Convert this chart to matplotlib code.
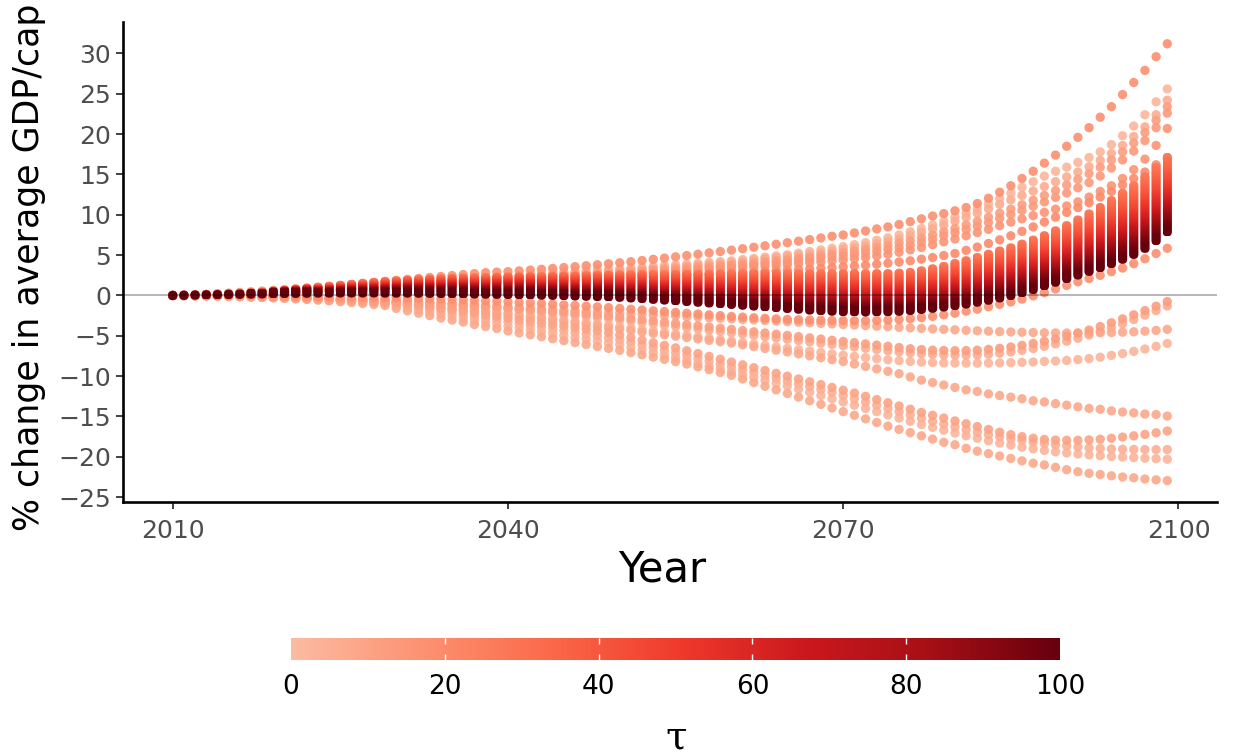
import numpy as np
import matplotlib
matplotlib.use("Agg")
import matplotlib.pyplot as plt
from matplotlib.colors import LinearSegmentedColormap, Normalize
from matplotlib.cm import ScalarMappable
from matplotlib.patches import FancyBboxPatch

plt.rcParams['font.family'] = ['DejaVu Sans']

years = np.arange(2010, 2100)

# dense band (tau ~25 at the top of each column, tau 100 at the bottom)
band_lo = [0.0, 0.02, 0.05, 0.08, 0.1, 0.12, 0.15, 0.17, 0.2, 0.22,
           0.24, 0.26, 0.28, 0.3, 0.3, 0.32, 0.32, 0.32, 0.32, 0.3,
           0.3, 0.3, 0.28, 0.27, 0.25, 0.23, 0.21, 0.19, 0.17, 0.15,
           0.13, 0.1, 0.08, 0.05, 0.02, -0.02, -0.05, -0.09, -0.13, -0.17,
           -0.22, -0.3, -0.38, -0.47, -0.56, -0.65, -0.74, -0.83, -0.92, -1.01,
           -1.1, -1.2, -1.3, -1.4, -1.5, -1.6, -1.7, -1.8, -1.87, -1.94,
           -2.0, -2.02, -2.03, -2.02, -2.0, -1.95, -1.85, -1.72, -1.58, -1.42,
           -1.25, -1.05, -0.82, -0.58, -0.3, 0.0, 0.35, 0.75, 1.2, 1.65,
           2.1, 2.55, 3.0, 3.45, 3.95, 4.5, 5.1, 5.85, 6.8, 7.9]
band_hi = [0.0, 0.02, 0.05, 0.08, 0.1, 0.15, 0.2, 0.3, 0.4, 0.5,
           0.62, 0.75, 0.88, 1.0, 1.12, 1.24, 1.36, 1.48, 1.6, 1.7,
           1.8, 1.88, 1.95, 2.0, 2.05, 2.1, 2.15, 2.2, 2.22, 2.25,
           2.28, 2.3, 2.32, 2.35, 2.37, 2.4, 2.42, 2.45, 2.47, 2.5,
           2.52, 2.54, 2.56, 2.58, 2.6, 2.62, 2.63, 2.64, 2.65, 2.66,
           2.67, 2.68, 2.69, 2.7, 2.7, 2.7, 2.7, 2.7, 2.7, 2.7,
           2.7, 2.7, 2.7, 2.7, 2.7, 2.75, 2.85, 3.05, 3.3, 3.6,
           3.95, 4.3, 4.7, 5.1, 5.5, 5.9, 6.35, 6.85, 7.4, 8.0,
           8.65, 9.35, 10.1, 10.9, 11.75, 12.65, 13.6, 14.7, 15.85, 17.1]

# single curves outside the band
u1 = [0.0, 0.05, 0.1, 0.15, 0.22, 0.3, 0.38, 0.46, 0.55, 0.64,
      0.73, 0.83, 0.93, 1.04, 1.15, 1.27, 1.39, 1.51, 1.63, 1.75,
      1.87, 1.99, 2.11, 2.23, 2.35, 2.47, 2.59, 2.71, 2.83, 2.9,
      2.95, 3.05, 3.15, 3.25, 3.35, 3.46, 3.57, 3.69, 3.81, 3.93,
      4.05, 4.19, 4.33, 4.48, 4.63, 4.79, 4.95, 5.11, 5.28, 5.45,
      5.62, 5.8, 5.98, 6.16, 6.35, 6.54, 6.73, 6.93, 7.13, 7.34,
      7.5, 7.75, 8.0, 8.25, 8.5, 8.8, 9.15, 9.5, 9.85, 10.15,
      10.5, 10.9, 11.4, 12.05, 12.8, 13.6, 14.5, 15.4, 16.4, 17.4,
      18.5, 19.6, 20.8, 22.1, 23.4, 24.9, 26.4, 27.9, 29.6, 31.2]
u2 = [0.0, 0.03, 0.06, 0.1, 0.14, 0.18, 0.23, 0.28, 0.33, 0.39,
      0.45, 0.54, 0.63, 0.72, 0.81, 0.9, 0.99, 1.08, 1.17, 1.28,
      1.4, 1.5, 1.6, 1.7, 1.8, 1.9, 2.0, 2.1, 2.2, 2.3,
      2.4, 2.5, 2.6, 2.7, 2.8, 2.9, 3.0, 3.1, 3.2, 3.25,
      3.3, 3.4, 3.5, 3.6, 3.7, 3.8, 3.9, 4.0, 4.1, 4.2,
      4.3, 4.45, 4.6, 4.75, 4.9, 5.05, 5.25, 5.45, 5.65, 5.85,
      6.05, 6.3, 6.55, 6.85, 7.15, 7.5, 7.9, 8.3, 8.75, 9.2,
      9.7, 10.2, 10.75, 11.35, 12.0, 12.7, 13.4, 14.1, 14.8, 15.4,
      15.9, 16.5, 17.1, 17.8, 18.7, 19.8, 21.0, 22.4, 24.0, 25.6]
u3 = [0.0, 0.03, 0.06, 0.09, 0.13, 0.17, 0.21, 0.26, 0.31, 0.36,
      0.42, 0.5, 0.58, 0.66, 0.75, 0.84, 0.93, 1.02, 1.11, 1.2,
      1.3, 1.4, 1.5, 1.6, 1.7, 1.8, 1.9, 2.0, 2.1, 2.2,
      2.3, 2.38, 2.46, 2.54, 2.62, 2.7, 2.78, 2.86, 2.94, 3.02,
      3.1, 3.2, 3.3, 3.4, 3.5, 3.6, 3.7, 3.8, 3.9, 4.0,
      4.1, 4.25, 4.4, 4.55, 4.7, 4.85, 5.0, 5.15, 5.3, 5.5,
      5.7, 5.9, 6.1, 6.4, 6.7, 7.0, 7.4, 7.8, 8.25, 8.7,
      9.2, 9.7, 10.2, 10.75, 11.3, 11.85, 12.4, 12.95, 13.5, 14.1,
      14.7, 15.3, 15.95, 16.75, 17.6, 18.6, 19.7, 20.9, 22.4, 24.2]
u4 = [0.0, 0.03, 0.06, 0.09, 0.12, 0.16, 0.2, 0.24, 0.29, 0.34,
      0.39, 0.46, 0.53, 0.61, 0.69, 0.77, 0.85, 0.93, 1.02, 1.11,
      1.2, 1.29, 1.38, 1.47, 1.56, 1.65, 1.74, 1.83, 1.92, 2.01,
      2.1, 2.18, 2.26, 2.34, 2.42, 2.5, 2.58, 2.66, 2.74, 2.82,
      2.9, 2.99, 3.08, 3.17, 3.26, 3.35, 3.44, 3.53, 3.62, 3.71,
      3.8, 3.93, 4.06, 4.2, 4.34, 4.48, 4.63, 4.8, 4.97, 5.14,
      5.3, 5.5, 5.7, 5.95, 6.2, 6.5, 6.8, 7.15, 7.5, 7.9,
      8.3, 8.75, 9.2, 9.7, 10.2, 10.7, 11.25, 11.8, 12.4, 13.0,
      13.7, 14.4, 15.1, 15.9, 16.8, 17.8, 18.9, 20.2, 21.7, 23.4]
u5 = [0.0, 0.03, 0.05, 0.08, 0.11, 0.15, 0.19, 0.23, 0.27, 0.32,
      0.37, 0.43, 0.5, 0.57, 0.64, 0.72, 0.8, 0.88, 0.96, 1.04,
      1.12, 1.2, 1.28, 1.36, 1.44, 1.52, 1.6, 1.68, 1.76, 1.84,
      1.92, 2.0, 2.08, 2.16, 2.24, 2.32, 2.4, 2.48, 2.56, 2.63,
      2.7, 2.78, 2.86, 2.94, 3.02, 3.1, 3.2, 3.3, 3.4, 3.5,
      3.6, 3.72, 3.84, 3.96, 4.08, 4.2, 4.34, 4.48, 4.62, 4.76,
      4.9, 5.07, 5.25, 5.45, 5.7, 5.95, 6.25, 6.6, 6.95, 7.4,
      7.8, 8.2, 8.6, 9.05, 9.55, 10.05, 10.55, 11.05, 11.6, 12.15,
      12.7, 13.35, 14.0, 14.8, 15.8, 16.8, 17.9, 19.2, 20.8, 22.6]
u6 = [0.0, 0.02, 0.05, 0.08, 0.11, 0.14, 0.17, 0.21, 0.25, 0.29,
      0.34, 0.4, 0.46, 0.52, 0.58, 0.65, 0.72, 0.79, 0.86, 0.93,
      1.0, 1.08, 1.16, 1.24, 1.32, 1.4, 1.48, 1.56, 1.64, 1.72,
      1.8, 1.87, 1.94, 2.01, 2.08, 2.15, 2.22, 2.29, 2.36, 2.43,
      2.5, 2.58, 2.66, 2.74, 2.82, 2.9, 2.98, 3.06, 3.14, 3.22,
      3.3, 3.4, 3.5, 3.6, 3.7, 3.8, 3.92, 4.04, 4.16, 4.28,
      4.4, 4.55, 4.7, 4.9, 5.1, 5.35, 5.65, 5.95, 6.3, 6.65,
      7.0, 7.4, 7.8, 8.2, 8.65, 9.1, 9.5, 9.9, 10.3, 10.7,
      11.1, 11.6, 12.2, 12.9, 13.6, 14.5, 15.6, 16.9, 18.6, 20.7]
u7 = [0.0, 0.02, 0.04, 0.07, 0.1, 0.13, 0.16, 0.2, 0.24, 0.28,
      0.32, 0.37, 0.42, 0.47, 0.52, 0.58, 0.64, 0.7, 0.76, 0.82,
      0.88, 0.95, 1.02, 1.09, 1.16, 1.23, 1.3, 1.37, 1.44, 1.51,
      1.58, 1.64, 1.7, 1.76, 1.82, 1.88, 1.94, 2.0, 2.06, 2.12,
      2.2, 2.26, 2.32, 2.38, 2.44, 2.5, 2.56, 2.62, 2.68, 2.74,
      2.8, 2.87, 2.94, 3.01, 3.08, 3.15, 3.22, 3.3, 3.38, 3.46,
      3.55, 3.65, 3.75, 3.87, 4.0, 4.15, 4.3, 4.5, 4.7, 4.95,
      5.2, 5.6, 6.0, 6.45, 6.9, 7.4, 7.95, 8.5, 9.1, 9.7,
      10.3, 10.9, 11.5, 12.2, 12.9, 13.7, 14.5, 15.3, 16.2, 17.0]
b1 = [0.0, 0.0, 0.0, 0.0, 0.0, 0.0, 0.0, -0.02, -0.04, -0.06,
      -0.08, -0.1, -0.12, -0.14, -0.16, -0.18, -0.2, -0.22, -0.24, -0.26,
      -0.28, -0.32, -0.36, -0.4, -0.45, -0.5, -0.55, -0.6, -0.66, -0.72,
      -0.78, -0.85, -0.92, -1.0, -1.08, -1.16, -1.24, -1.33, -1.42, -1.51,
      -1.6, -1.7, -1.8, -1.9, -2.0, -2.1, -2.2, -2.3, -2.4, -2.5,
      -2.6, -2.68, -2.76, -2.83, -2.9, -2.96, -3.0, -3.04, -3.07, -3.1,
      -3.12, -3.13, -3.13, -3.1, -3.05, -2.98, -2.88, -2.75, -2.6, -2.4,
      -2.2, -1.95, -1.7, -1.4, -1.1, -0.8, -0.45, -0.05, 0.35, 0.8,
      1.25, 1.7, 2.1, 2.5, 2.95, 3.4, 3.95, 4.55, 5.2, 5.85]
l1 = [0.0, 0.0, -0.01, -0.02, -0.04, -0.06, -0.08, -0.1, -0.13, -0.16,
      -0.19, -0.23, -0.27, -0.31, -0.36, -0.41, -0.46, -0.52, -0.58, -0.64,
      -0.7, -0.77, -0.84, -0.92, -1.0, -1.08, -1.17, -1.26, -1.35, -1.45,
      -1.55, -1.65, -1.75, -1.86, -1.97, -2.08, -2.19, -2.3, -2.42, -2.55,
      -2.7, -2.85, -3.0, -3.15, -3.3, -3.45, -3.6, -3.75, -3.9, -4.05,
      -4.2, -4.35, -4.5, -4.65, -4.8, -4.95, -5.1, -5.25, -5.4, -5.55,
      -5.7, -5.85, -6.0, -6.15, -6.3, -6.45, -6.6, -6.7, -6.78, -6.82,
      -6.84, -6.83, -6.78, -6.68, -6.55, -6.38, -6.18, -5.95, -5.68, -5.38,
      -5.05, -4.68, -4.28, -3.85, -3.38, -2.9, -2.4, -1.88, -1.33, -0.75]
l2 = [0.0, 0.0, -0.01, -0.03, -0.05, -0.07, -0.09, -0.12, -0.15, -0.18,
      -0.22, -0.26, -0.31, -0.36, -0.41, -0.47, -0.53, -0.6, -0.67, -0.74,
      -0.81, -0.89, -0.97, -1.06, -1.15, -1.24, -1.34, -1.44, -1.54, -1.65,
      -1.76, -1.87, -1.99, -2.11, -2.23, -2.36, -2.49, -2.62, -2.75, -2.89,
      -3.03, -3.19, -3.35, -3.51, -3.67, -3.83, -3.99, -4.15, -4.31, -4.47,
      -4.63, -4.79, -4.95, -5.11, -5.27, -5.43, -5.59, -5.75, -5.91, -6.07,
      -6.23, -6.39, -6.55, -6.7, -6.85, -7.0, -7.12, -7.22, -7.3, -7.36,
      -7.4, -7.4, -7.36, -7.28, -7.16, -7.0, -6.8, -6.57, -6.3, -6.0,
      -5.67, -5.3, -4.9, -4.47, -4.0, -3.5, -2.98, -2.43, -1.87, -1.3]
l3 = [0.0, 0.0, -0.01, -0.02, -0.03, -0.05, -0.07, -0.09, -0.11, -0.14,
      -0.17, -0.2, -0.24, -0.28, -0.32, -0.37, -0.42, -0.47, -0.53, -0.59,
      -0.65, -0.72, -0.79, -0.86, -0.93, -1.0, -1.08, -1.16, -1.24, -1.32,
      -1.4, -1.48, -1.56, -1.64, -1.72, -1.8, -1.88, -1.96, -2.04, -2.12,
      -2.2, -2.27, -2.34, -2.41, -2.48, -2.55, -2.62, -2.69, -2.76, -2.83,
      -2.9, -2.97, -3.04, -3.11, -3.18, -3.25, -3.32, -3.39, -3.46, -3.53,
      -3.6, -3.67, -3.74, -3.81, -3.88, -3.95, -4.02, -4.08, -4.14, -4.2,
      -4.26, -4.32, -4.38, -4.43, -4.48, -4.52, -4.56, -4.59, -4.62, -4.64,
      -4.65, -4.65, -4.64, -4.62, -4.59, -4.55, -4.5, -4.43, -4.33, -4.2]
l4 = [0.0, -0.01, -0.02, -0.04, -0.06, -0.09, -0.12, -0.15, -0.19, -0.23,
      -0.28, -0.33, -0.39, -0.45, -0.52, -0.59, -0.67, -0.75, -0.84, -0.93,
      -1.02, -1.12, -1.22, -1.33, -1.44, -1.56, -1.68, -1.81, -1.94, -2.08,
      -2.22, -2.37, -2.52, -2.68, -2.84, -3.0, -3.17, -3.34, -3.51, -3.68,
      -3.85, -4.03, -4.21, -4.39, -4.57, -4.75, -4.93, -5.11, -5.29, -5.47,
      -5.65, -5.83, -6.01, -6.19, -6.37, -6.55, -6.73, -6.9, -7.07, -7.24,
      -7.4, -7.55, -7.7, -7.84, -7.97, -8.08, -8.18, -8.26, -8.32, -8.36,
      -8.38, -8.39, -8.39, -8.38, -8.36, -8.33, -8.29, -8.24, -8.18, -8.12,
      -8.05, -7.95, -7.83, -7.65, -7.43, -7.2, -6.93, -6.64, -6.31, -5.95]
l5 = [0.0, -0.01, -0.02, -0.03, -0.05, -0.07, -0.09, -0.12, -0.15, -0.19,
      -0.23, -0.28, -0.33, -0.39, -0.45, -0.52, -0.59, -0.66, -0.74, -0.82,
      -0.9, -1.05, -1.2, -1.35, -1.5, -1.65, -1.8, -1.95, -2.1, -2.25,
      -2.4, -2.58, -2.76, -2.94, -3.12, -3.3, -3.48, -3.66, -3.84, -4.02,
      -4.2, -4.37, -4.54, -4.71, -4.88, -5.05, -5.22, -5.39, -5.56, -5.73,
      -5.9, -6.12, -6.34, -6.56, -6.78, -7.0, -7.24, -7.48, -7.72, -7.96,
      -8.2, -8.5, -8.8, -9.1, -9.4, -9.7, -10.1, -10.5, -10.8, -11.1,
      -11.4, -11.7, -11.9, -12.2, -12.4, -12.6, -12.8, -13.05, -13.2, -13.4,
      -13.6, -13.8, -14.0, -14.1, -14.3, -14.45, -14.55, -14.7, -14.75, -14.95]
l6 = [0.0, -0.01, -0.02, -0.04, -0.06, -0.08, -0.11, -0.14, -0.17, -0.21,
      -0.25, -0.3, -0.35, -0.41, -0.47, -0.54, -0.61, -0.69, -0.77, -0.85,
      -0.93, -1.1, -1.27, -1.45, -1.63, -1.82, -2.01, -2.2, -2.4, -2.6,
      -2.8, -3.0, -3.2, -3.4, -3.6, -3.8, -4.0, -4.2, -4.4, -4.6,
      -4.9, -5.22, -5.54, -5.86, -6.18, -6.5, -6.85, -7.2, -7.55, -7.9,
      -8.25, -8.6, -8.95, -9.3, -9.65, -10.0, -10.35, -10.7, -11.05, -11.4,
      -11.75, -12.1, -12.5, -12.9, -13.3, -13.7, -14.1, -14.5, -14.85, -15.2,
      -15.55, -15.9, -16.25, -16.6, -16.95, -17.25, -17.5, -17.7, -17.85, -17.92,
      -17.95, -17.95, -17.9, -17.82, -17.7, -17.55, -17.4, -17.22, -17.02, -16.8]
l7 = [0.0, -0.01, -0.03, -0.05, -0.07, -0.1, -0.13, -0.16, -0.2, -0.24,
      -0.29, -0.34, -0.4, -0.46, -0.53, -0.6, -0.68, -0.77, -0.86, -0.96,
      -1.06, -1.28, -1.5, -1.72, -1.94, -2.16, -2.38, -2.6, -2.82, -3.04,
      -3.26, -3.48, -3.7, -3.92, -4.14, -4.36, -4.58, -4.8, -5.02, -5.24,
      -5.5, -5.82, -6.14, -6.46, -6.78, -7.1, -7.45, -7.8, -8.15, -8.5,
      -8.85, -9.2, -9.55, -9.9, -10.25, -10.6, -10.95, -11.3, -11.65, -12.0,
      -12.4, -12.8, -13.2, -13.6, -14.0, -14.4, -14.8, -15.2, -15.6, -15.95,
      -16.3, -16.65, -16.95, -17.25, -17.5, -17.75, -17.95, -18.15, -18.35, -18.5,
      -18.65, -18.78, -18.88, -18.96, -19.02, -19.06, -19.08, -19.1, -19.1, -19.1]
l8 = [0.0, -0.01, -0.03, -0.05, -0.08, -0.11, -0.14, -0.18, -0.22, -0.27,
      -0.32, -0.38, -0.44, -0.51, -0.58, -0.66, -0.75, -0.84, -0.94, -1.04,
      -1.3, -1.55, -1.8, -2.05, -2.3, -2.55, -2.8, -3.05, -3.3, -3.55,
      -3.8, -4.03, -4.26, -4.49, -4.72, -4.95, -5.18, -5.41, -5.64, -5.87,
      -6.1, -6.42, -6.74, -7.06, -7.38, -7.7, -8.05, -8.4, -8.75, -9.1,
      -9.45, -9.8, -10.15, -10.5, -10.85, -11.2, -11.6, -12.0, -12.4, -12.8,
      -13.2, -13.6, -14.0, -14.4, -14.8, -15.2, -15.6, -16.0, -16.35, -16.7,
      -17.05, -17.4, -17.7, -18.0, -18.3, -18.55, -18.8, -19.0, -19.2, -19.38,
      -19.52, -19.65, -19.76, -19.86, -19.95, -20.03, -20.1, -20.17, -20.24, -20.3]
l9 = [0.0, -0.02, -0.04, -0.06, -0.09, -0.12, -0.16, -0.2, -0.25, -0.3,
      -0.36, -0.43, -0.5, -0.58, -0.67, -0.77, -0.88, -1.0, -1.12, -1.25,
      -1.6, -1.9, -2.2, -2.5, -2.8, -3.05, -3.3, -3.6, -3.85, -4.1,
      -4.4, -4.64, -4.88, -5.12, -5.36, -5.6, -5.84, -6.08, -6.32, -6.56,
      -6.8, -7.08, -7.36, -7.64, -7.92, -8.2, -8.5, -8.85, -9.2, -9.55,
      -9.9, -10.35, -10.8, -11.25, -11.7, -12.15, -12.6, -13.05, -13.5, -13.95,
      -14.4, -14.85, -15.3, -15.75, -16.2, -16.6, -17.0, -17.4, -17.8, -18.2,
      -18.5, -18.95, -19.3, -19.6, -19.9, -20.2, -20.5, -20.8, -21.0, -21.3,
      -21.6, -21.85, -22.05, -22.2, -22.35, -22.5, -22.6, -22.75, -22.85, -22.95]

curve_values = [u1, u2, u3, u4, u5, u6, u7, b1, l1, l2, l3, l4, l5, l6, l7, l8, l9]
curve_tau = [18, 2, 6, 12, 14, 16, 20, 18, 12, 6, 8, 3, 8, 10, 5, 3, 8]

reds = LinearSegmentedColormap.from_list(
    'reds', ['#fcbba1', '#fc9272', '#fb6a4a', '#ef3b2c', '#cb181d', '#a50f15', '#67000d'])
norm = Normalize(0, 100)

fig = plt.figure(figsize=(12.33, 7.55), dpi=100)
ax = fig.add_axes([123 / 1233, 253 / 755, 1094 / 1233, 480 / 755])

# outlying curves first (low tau underneath)
order = np.argsort(curve_tau, kind='stable')
for i in order:
    ax.scatter(years, curve_values[i], s=45, color=reds(norm(curve_tau[i])),
               edgecolors='none', alpha=0.9, zorder=2)

# band columns: stacked points of rising tau, drawn as rounded gradient columns
hw, rv = 0.416, 0.576
f_stops = [0.0, 0.2, 0.36, 0.64, 1.0]
t_stops = [100, 85, 65, 45, 25]
for yr, lo, hi in zip(years, band_lo, band_hi):
    bottom, top = lo - rv, hi + rv
    ys = np.linspace(bottom, top, 120)
    centre = ys - rv
    span = max(hi - lo, 1e-6)
    frac = np.clip((centre - lo) / span, 0, 1)
    tau = np.where(centre <= lo, 100, np.interp(frac, f_stops, t_stops))
    rgba = reds(norm(tau))[:, None, :]
    box = FancyBboxPatch((yr - hw, bottom), 2 * hw, top - bottom,
                         boxstyle=f"round,pad=0,rounding_size={hw}",
                         mutation_aspect=rv / hw, facecolor='none', edgecolor='none')
    ax.add_patch(box)
    im = ax.imshow(rgba, extent=(yr - hw, yr + hw, bottom, top), origin='lower',
                   aspect='auto', interpolation='bilinear', zorder=3)
    im.set_clip_path(box)

ax.axhline(0, color='black', alpha=0.3, lw=1.3, zorder=5)

ax.set_xlim(2005.55, 2103.45)
ax.set_ylim(-25.6, 33.9)
ax.set_xticks([2010, 2040, 2070, 2100])
ax.set_yticks(np.arange(-25, 31, 5))
ax.set_yticklabels([str(v).replace('-', '\u2212') for v in range(-25, 31, 5)])
for s in ['top', 'right']:
    ax.spines[s].set_visible(False)
for s in ['left', 'bottom']:
    ax.spines[s].set_linewidth(1.9)
    ax.spines[s].set_color('black')
ax.tick_params(axis='both', length=5, width=1.3, color='#333333',
               labelsize=18, labelcolor='#4d4d4d')
ax.tick_params(axis='y', pad=3.5)
ax.tick_params(axis='x', pad=7)

# the reference shows the y title running up to the top edge
fig.text(29 / 1233, 1 - 531 / 755, '% change in average GDP/cap', rotation=90,
         ha='center', va='bottom', fontsize=25)
fig.text(662 / 1233, 1 - 570 / 755, 'Year', ha='center', va='center', fontsize=30)

# colour bar for tau
cax = fig.add_axes([291 / 1233, 95 / 755, 769 / 1233, 22 / 755])
sm = ScalarMappable(norm=norm, cmap=reds)
cbar = fig.colorbar(sm, cax=cax, orientation='horizontal', ticks=[0, 20, 40, 60, 80, 100])
cbar.outline.set_visible(False)
cax.xaxis.set_ticks_position('both')
cax.tick_params(axis='x', which='both', direction='in', length=4, width=1,
                colors='white', labelcolor='black', labelsize=19, pad=10,
                labeltop=False, labelbottom=True)
for t in [cax.xaxis.get_major_ticks()[0], cax.xaxis.get_major_ticks()[-1]]:
    t.tick1line.set_visible(False)
    t.tick2line.set_visible(False)
fig.text(676 / 1233, 1 - 738 / 755, '\u03c4', ha='center', va='center',
         fontsize=28, family='DejaVu Serif')

fig.savefig('out.png', dpi=100)
